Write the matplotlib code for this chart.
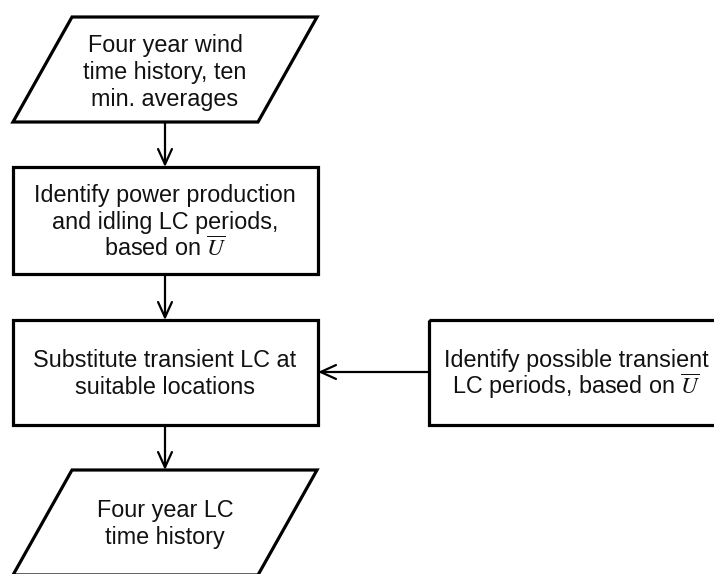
import matplotlib.pyplot as plt
from matplotlib.patches import Polygon, Rectangle

plt.rcParams['font.family'] = ['Liberation Sans', 'DejaVu Sans']
plt.rcParams['mathtext.fontset'] = 'stix'

# text of each flowchart node, one entry per line
labels = [
    ["Four year wind", "time history, ten", "min. averages"],
    ["Identify power production", "and idling LC periods,", "based on $\\overline{U}$"],
    ["Substitute transient LC at", "suitable locations"],
    ["Identify possible transient", "LC periods, based on $\\overline{U}$"],
    ["Four year LC", "time history"],
]
kinds = ["io", "process", "process", "process", "io"]

# layout in pixel coords (x0, y0, x1, y1), y going down
boxes = [
    (13, 17, 317, 122),
    (13, 167, 318, 274),
    (13, 320, 318, 425),
    (429, 320, 740, 425),
    (13, 470, 317, 575),
]
# text centre x and first baseline y
text_pos = [(165, 52), (165, 202), (165, 367), (576, 367), (165, 517)]
line_step = 27
# arrows: (from, to) in pixel coords
arrows = [
    ((165, 122), (165, 167)),
    ((165, 274), (165, 320)),
    ((429, 372), (318, 372)),
    ((165, 425), (165, 470)),
]

fig = plt.figure(figsize=(7.14, 5.74), dpi=100)
ax = fig.add_axes([0, 0, 1, 1])
ax.set_xlim(0, 714)
ax.set_ylim(574, 0)
ax.axis('off')

slant = 59
for (x0, y0, x1, y1), kind in zip(boxes, kinds):
    if kind == "io":
        pts = [(x0 + slant, y0), (x1, y0), (x1 - slant, y1), (x0, y1)]
        ax.add_patch(Polygon(pts, closed=True, fill=False, lw=2.3,
                             edgecolor='black', joinstyle='miter'))
    else:
        ax.add_patch(Rectangle((x0, y0), x1 - x0, y1 - y0, fill=False,
                               lw=2.3, edgecolor='black', joinstyle='miter'))

for (x, y), lines in zip(text_pos, labels):
    for i, line in enumerate(lines):
        ax.text(x, y + i * line_step, line, ha='center', va='baseline',
                fontsize=16.8, color='#111111')

for start, end in arrows:
    ax.annotate("", xy=end, xytext=start,
                arrowprops=dict(arrowstyle="->,head_length=1.1,head_width=0.5",
                                lw=1.6, color='black',
                                shrinkA=0, shrinkB=0))

fig.savefig("out.png", dpi=100)
